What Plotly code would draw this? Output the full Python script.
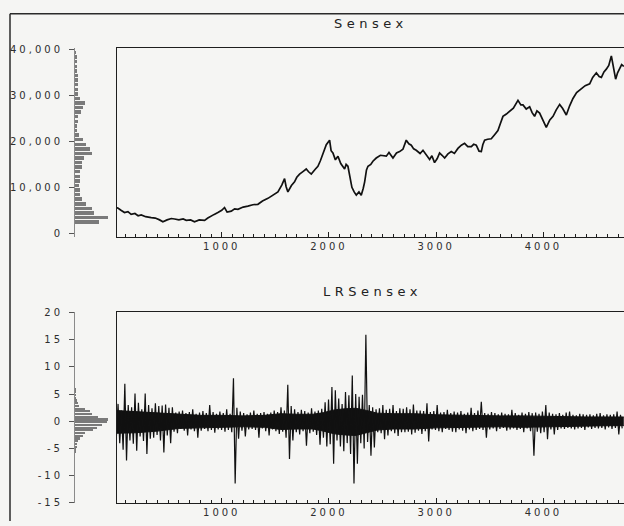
import plotly.graph_objects as go

W, H = 624, 526

# ---------------- data ----------------
sensex_obs = [1, 31, 60, 93, 125, 155, 190, 220, 249, 290,
              342, 380, 420, 451, 490, 530, 560, 600, 640, 669,
              710, 746, 790, 840, 870, 902, 930, 964, 1000, 1026,
              1050, 1089, 1120, 1151, 1200, 1244, 1290, 1337, 1380, 1431,
              1480, 1524, 1560, 1586, 1600, 1617, 1650, 1679, 1700, 1726,
              1760, 1788, 1810, 1835, 1870, 1897, 1920, 1944, 1975, 2006,
              2020, 2037, 2060, 2084, 2110, 2146, 2160, 2177, 2195, 2214,
              2235, 2255, 2280, 2301, 2320, 2333, 2350, 2364, 2390, 2410,
              2441, 2480, 2535, 2560, 2597, 2630, 2659, 2690, 2721, 2745,
              2768, 2790, 2814, 2850, 2877, 2910, 2939, 2960, 2985, 3010,
              3032, 3055, 3079, 3110, 3141, 3170, 3203, 3235, 3265, 3295,
              3328, 3350, 3374, 3400, 3421, 3435, 3452, 3480, 3514, 3545,
              3576, 3600, 3623, 3655, 3685, 3720, 3763, 3790, 3810, 3840,
              3872, 3895, 3918, 3940, 3965, 3990, 4027, 4060, 4090, 4120,
              4152, 4180, 4214, 4245, 4276, 4310, 4354, 4390, 4432, 4460,
              4494, 4520, 4541, 4565, 4587, 4610, 4634, 4655, 4674, 4692,
              4711, 4730, 4750]
sensex_val = [5600, 5500, 5000, 4500, 4700, 4100, 4300, 3800, 4000, 3600,
              3400, 3300, 2900, 2500, 2900, 3200, 3100, 2900, 3100, 2800,
              2900, 2500, 2900, 2800, 3300, 3800, 4100, 4500, 5000, 5600,
              4600, 4800, 5300, 5200, 5700, 5900, 6200, 6300, 7000, 7600,
              8400, 9000, 10500, 11900, 10200, 9000, 10400, 11200, 12200, 12900,
              13500, 14000, 13400, 12900, 13900, 14600, 15800, 17500, 19300, 20300,
              18000, 17500, 16000, 16800, 15200, 14000, 15000, 14600, 12500, 10000,
              9000, 8300, 9000, 8300, 9800, 11200, 13800, 14600, 15000, 15700,
              16400, 17000, 16800, 17600, 16400, 17500, 17800, 18300, 20300, 19500,
              19200, 18400, 18100, 17400, 18100, 17000, 16100, 16900, 15400, 16300,
              17500, 17000, 16400, 17300, 17800, 17400, 18500, 19200, 19600, 18900,
              18900, 19400, 19200, 17900, 17800, 19300, 20300, 20500, 20600, 21500,
              22400, 24000, 25500, 26000, 26600, 27300, 29000, 28000, 28000, 27100,
              27600, 26300, 25500, 26700, 26200, 24800, 23100, 24700, 25500, 26900,
              28100, 27200, 25800, 27800, 29400, 30700, 31500, 32200, 32600, 34000,
              35000, 34200, 34000, 35200, 35800, 36600, 38700, 35500, 33600, 35000,
              35800, 36800, 36400]

# log returns (percent), read as successive highs / lows of the band
lr_vals = [
    2.5, -3.0, 3.2, -4.0, 2.0, -5.2, 6.9, -7.2, 3.0, -3.5,
    2.6, -4.1, 5.1, -5.4, 3.4, -2.8, 2.2, -3.6, 5.1, -6.0,
    3.0, -3.2, 2.4, -3.0, 3.3, -2.5, 2.8, -3.5, 2.9, -5.7,
    3.1, -2.6, 2.5, -4.0, 2.6,
    -1.9, 1.6, -2.2, 1.8, -1.4, 2.0, -1.7, 1.5, -2.6, 1.7,
    -1.5, 2.2, -1.8, 1.4, -3.0, 1.6, -1.7, 1.9, -1.4, 1.5,
    -1.8, 3.0, -1.6, 1.7, -2.1, 1.4, -1.5, 1.8,
    -1.6, 1.5, -1.9, 2.2, -1.6, 1.4, -2.0, 7.9, -11.4, 2.5,
    -3.2, 1.8, -1.7, 1.5, -2.8, 1.3, -1.5, 1.6, -1.4, 2.0,
    -1.6, 1.4, -3.0, 1.5, -1.3, 1.7, -1.8, 1.4, -2.6, 1.6,
    -1.5, 2.0,
    -1.8, 1.7, -2.3, 2.6, -1.9, 2.0, -3.0, 6.7, -6.9, 2.8, -3.5, 2.2,
    -2.0, 1.7, -2.4, 2.1, -1.8, 1.9, -4.5, 1.6, -2.2, 2.4, -1.9, 1.8, -2.5, 2.0, -4.3, 2.3,
    -3.0, 3.5, -4.6, 4.0, -4.2, 6.3, -7.8, 5.7, -3.5, 4.2, -4.6, 3.2, -5.5, 5.4, -4.0,
    4.8, -6.0, 8.4, -11.4, 5.0, -7.8, 4.5, -4.0, 4.9, -5.0, 15.9, -3.8, 3.0, -6.3,
    2.6, -4.8, 2.2, -2.0, 2.4, -2.2, 3.0, -3.3, 2.1, -2.6, 2.3, -1.8, 3.0, -2.2, 1.9,
    -2.7, 2.4, -2.0, 2.3, -2.0, 2.6, -1.9, 2.2, -2.4, 3.1, -2.1, 2.0, -1.7, 2.0, -2.3, 1.9,
    -1.8, 3.3, -3.7, 1.7, -1.5, 1.9, -1.6, 3.0, -1.8, 1.6, -2.0, 1.7, -1.4, 2.1, -1.6, 1.5,
    -1.9, 1.8, -2.0, 1.6, -1.5, 1.9, -1.7, 1.4, -2.2, 1.6, -1.5, 2.5, -1.8, 1.5, -1.6, 2.0,
    -1.4, 3.6, -1.6, 1.5, -3.0, 1.4, -1.5, 1.7, -1.3, 1.5,
    -1.8, 1.3, -1.4, 1.6, -1.2, 1.4, -1.7, 1.3, -1.5, 2.1,
    -1.3, 1.5, -1.6, 1.2, -1.4, 1.6, -2.0, 1.4, -1.3, 1.7,
    -1.8, 1.5, -6.3, 1.6, -1.9, 1.4, -2.2, 1.8, -2.0, 3.0,
    -3.3, 1.6, -1.5, 1.4, -2.4, 1.3, -1.6, 1.5, -1.3, 1.2,
    -1.4, 1.6, -1.2, 1.8, -1.3, 1.2, -1.5, 1.1, -1.3, 1.4,
    -1.2, 1.3, -1.6, 1.2, -1.1, 1.3, -1.4, 1.1, -1.2, 1.4,
    -1.3, 1.5, -1.2, 1.1, -1.5, 1.3, -1.1, 1.2, -1.4, 1.3,
    -1.2, 1.8, -2.4, 1.2, -1.3,
]
lr_last_obs = 4750

# solid dense core of the return series (upper / lower edge of the black band)
lr_core_obs = [1, 200, 400, 600, 800, 1000, 1200, 1400, 1550, 1700,
               1850, 1950, 2050, 2150, 2250, 2350, 2450, 2600, 2800, 3000,
               3200, 3400, 3600, 3800, 4000, 4200, 4400, 4600, 4750]
lr_core_hi = [2.0, 1.8, 1.6, 1.3, 1.1, 1.1, 1.0, 1.1, 1.4, 1.3,
              1.3, 1.6, 2.1, 2.3, 2.4, 2.0, 1.5, 1.4, 1.4, 1.2,
              1.1, 1.0, 1.0, 1.0, 0.9, 0.9, 0.8, 0.8, 0.8]
lr_core_lo = [-2.2, -2.1, -1.8, -1.3, -1.2, -1.1, -1.0, -1.1, -1.5, -1.4,
              -1.4, -1.8, -2.3, -2.5, -2.6, -2.1, -1.6, -1.4, -1.4, -1.2,
              -1.1, -1.0, -1.0, -1.1, -1.0, -0.9, -0.9, -0.8, -0.8]

sensex_bins = [500, 1500, 2500, 3500, 4500, 5500, 6500, 7500, 8500, 9500,
               10500, 11500, 12500, 13500, 14500, 15500, 16500, 17500, 18500, 19500,
               20500, 21500, 22500, 23500, 24500, 25500, 26500, 27500, 28500, 29500,
               30500, 31500, 32500, 33500, 34500, 35500, 36500, 37500, 38500, 39500]
sensex_hist = [0, 0, 24, 33, 19, 17, 11, 7, 5, 5,
               3.5, 5, 5, 4.5, 7, 7, 9, 17, 15, 11,
               8, 4, 2, 2, 3, 3, 6, 8, 10, 5,
               3, 3, 3, 3, 3, 2, 2, 2, 2, 1]

lr_bins = [-5.75, -5.25, -4.75, -4.25, -3.75, -3.25, -2.75, -2.25, -1.75, -1.25, -0.75, -0.25,
           0.25, 0.75, 1.25, 1.75, 2.25, 2.75, 3.25, 3.75, 4.25, 4.75, 5.25, 5.75]
lr_hist = [0.5, 1, 1.5, 2, 3, 5, 8, 10, 18, 22, 27, 32,
           33, 23, 17, 15, 10, 4, 2.5, 1.5, 1, 1, 1, 0.8]

x_ticks = [1000, 2000, 3000, 4000]
sensex_ticks = [0, 10000, 20000, 30000, 40000]
sensex_ticktext = ["0", "10,000", "20,000", "30,000", "40,000"]
lr_ticks = [-15, -10, -5, 0, 5, 10, 15, 20]
lr_ticktext = ["-15", "-10", "-5", "0", "5", "10", "15", "20"]

# ---------------- figure ----------------
step = lr_last_obs / len(lr_vals)
lr_obs = [1 + i * step for i in range(len(lr_vals))]


def sp(t, ls):
    return f'<span style="letter-spacing:{ls}px">{t}</span>'


def fx(px):
    return px / W


def fy(py):
    return 1 - py / H


FONT = "DejaVu Sans"
TXT = "#2e2e2e"
BG = "#f5f5f3"
LINE = "#1e1e1e"

top_y = [fy(236), fy(42.5)]
bot_y = [fy(507.6), fy(313)]
main_x = [fx(117), 1.0]
hist_x = [fx(75), fx(110)]
xr = [23, 4752]
yr_top = [-850, 40500]
yr_bot = [-15, 20]

fig = go.Figure()
fig.add_trace(go.Scatter(x=sensex_obs, y=sensex_val, mode="lines",
                         line=dict(color="#111111", width=1.7),
                         xaxis="x", yaxis="y", showlegend=False))
fig.add_trace(go.Bar(y=sensex_bins, x=sensex_hist, orientation="h", width=750,
                     marker=dict(color="#7a7a7a", line=dict(width=0)),
                     xaxis="x2", yaxis="y2", showlegend=False))
fig.add_trace(go.Scatter(x=lr_core_obs, y=lr_core_hi, mode="lines",
                         line=dict(color="#111111", width=1),
                         xaxis="x3", yaxis="y3", showlegend=False, hoverinfo="skip"))
fig.add_trace(go.Scatter(x=lr_core_obs, y=lr_core_lo, mode="lines", fill="tonexty",
                         fillcolor="#111111", line=dict(color="#111111", width=1),
                         xaxis="x3", yaxis="y3", showlegend=False, hoverinfo="skip"))
fig.add_trace(go.Scatter(x=lr_obs, y=lr_vals, mode="lines",
                         line=dict(color="#111111", width=1.2),
                         xaxis="x3", yaxis="y3", showlegend=False))
fig.add_trace(go.Bar(y=lr_bins, x=lr_hist, orientation="h", width=0.4,
                     marker=dict(color="#7a7a7a", line=dict(width=0)),
                     xaxis="x4", yaxis="y4", showlegend=False))

tickfont = dict(family=FONT, size=10, color=TXT)
x_common = dict(range=xr, domain=main_x, showline=True, linecolor=LINE, linewidth=1.3,
                mirror=True, ticks="inside", ticklen=5, tickcolor=LINE, tickwidth=1,
                tickvals=x_ticks, ticktext=[sp(str(v), 3) for v in x_ticks],
                tickfont=tickfont, showgrid=False, zeroline=False,
                minor=dict(ticks="inside", ticklen=3, dtick=100, tick0=0,
                           tickcolor=LINE, tickwidth=1, showgrid=False))
y_main = dict(showline=True, linecolor=LINE, linewidth=1.3, showticklabels=False,
              ticks="", showgrid=False, zeroline=False)
y_hist = dict(showline=True, linecolor="#8a8a8a", linewidth=1, ticks="outside",
              ticklen=5, tickcolor="#555555", tickfont=tickfont, showgrid=False,
              zeroline=False, ticklabelstandoff=4)
x_hist = dict(domain=hist_x, range=[0, 35], visible=False, showgrid=False, zeroline=False)

fig.update_layout(
    width=W, height=H, margin=dict(l=0, r=0, t=0, b=0),
    paper_bgcolor=BG, plot_bgcolor=BG, bargap=0,
    xaxis=dict(anchor="y", **x_common),
    yaxis=dict(anchor="x", domain=top_y, range=yr_top, **y_main),
    xaxis2=dict(anchor="y2", **x_hist),
    yaxis2=dict(anchor="x2", domain=top_y, range=yr_top, tickvals=sensex_ticks,
                ticktext=[sp(t, 3) for t in sensex_ticktext], **y_hist),
    xaxis3=dict(anchor="y3", **x_common),
    yaxis3=dict(anchor="x3", domain=bot_y, range=yr_bot, **y_main),
    xaxis4=dict(anchor="y4", **x_hist),
    yaxis4=dict(anchor="x4", domain=bot_y, range=yr_bot, tickvals=lr_ticks,
                ticktext=[sp(t, 3) for t in lr_ticktext], **y_hist),
    annotations=[
        dict(text=sp("Sensex", 4.5), x=fx(371), y=fy(18), xref="paper", yref="paper",
             showarrow=False, xanchor="center", yanchor="middle",
             font=dict(family=FONT, size=13, color="#222222")),
        dict(text=sp("LRSensex", 4.5), x=fx(372), y=fy(292), xref="paper", yref="paper",
             showarrow=False, xanchor="center", yanchor="middle",
             font=dict(family=FONT, size=13, color="#222222")),
    ],
    shapes=[
        dict(type="line", xref="paper", yref="paper", x0=fx(10), x1=1.0, y0=fy(8), y1=fy(8),
             line=dict(color="#2a2a2a", width=1.5)),
        dict(type="line", xref="paper", yref="paper", x0=fx(10), x1=fx(10), y0=fy(8), y1=0,
             line=dict(color="#2a2a2a", width=1.5)),
    ],
)

fig.write_html("out.html", config={"displayModeBar": False},
               post_script="document.body.style.margin='0';document.body.style.overflow='hidden';")
